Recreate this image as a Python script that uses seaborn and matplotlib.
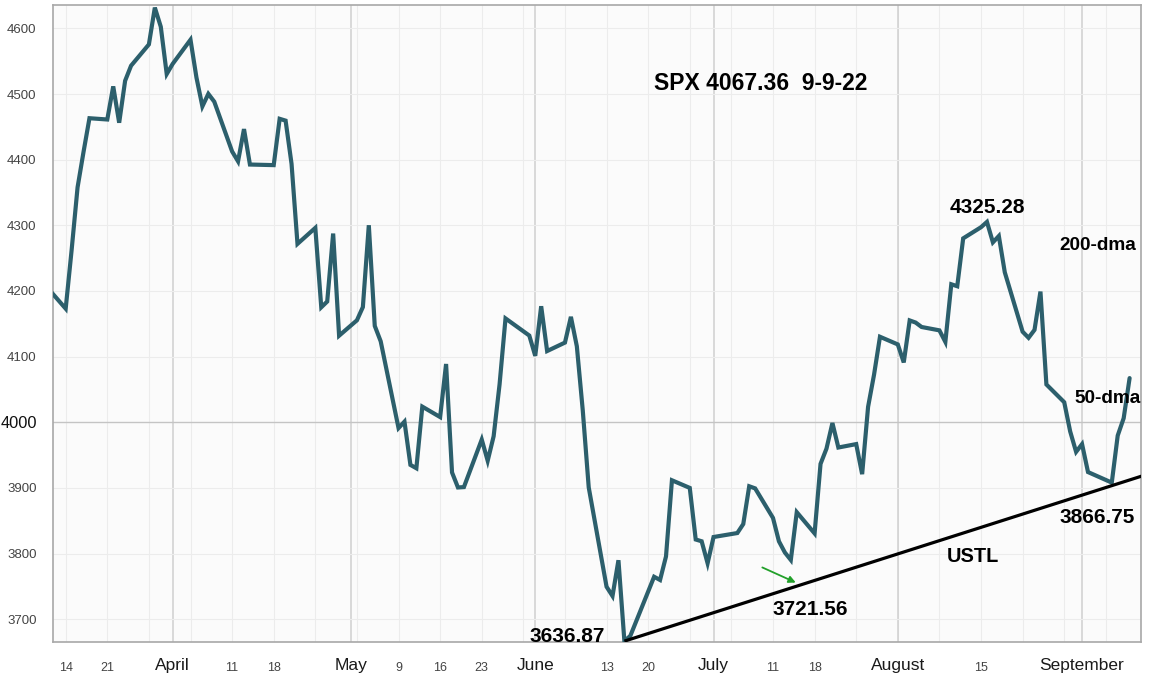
import pandas as pd
import numpy as np
import matplotlib
matplotlib.use("Agg")
import matplotlib.pyplot as plt
import matplotlib.dates as mdates
import seaborn as sns

# ---- data: SPX daily closes ----
dates = ["2022-03-11","2022-03-14","2022-03-15","2022-03-16","2022-03-17","2022-03-18",
         "2022-03-21","2022-03-22","2022-03-23","2022-03-24","2022-03-25",
         "2022-03-28","2022-03-29","2022-03-30","2022-03-31","2022-04-01",
         "2022-04-04","2022-04-05","2022-04-06","2022-04-07","2022-04-08",
         "2022-04-11","2022-04-12","2022-04-13","2022-04-14",
         "2022-04-18","2022-04-19","2022-04-20","2022-04-21","2022-04-22",
         "2022-04-25","2022-04-26","2022-04-27","2022-04-28","2022-04-29",
         "2022-05-02","2022-05-03","2022-05-04","2022-05-05","2022-05-06",
         "2022-05-09","2022-05-10","2022-05-11","2022-05-12","2022-05-13",
         "2022-05-16","2022-05-17","2022-05-18","2022-05-19","2022-05-20",
         "2022-05-23","2022-05-24","2022-05-25","2022-05-26","2022-05-27",
         "2022-05-31","2022-06-01","2022-06-02","2022-06-03",
         "2022-06-06","2022-06-07","2022-06-08","2022-06-09","2022-06-10",
         "2022-06-13","2022-06-14","2022-06-15","2022-06-16","2022-06-17",
         "2022-06-21","2022-06-22","2022-06-23","2022-06-24",
         "2022-06-27","2022-06-28","2022-06-29","2022-06-30","2022-07-01",
         "2022-07-05","2022-07-06","2022-07-07","2022-07-08",
         "2022-07-11","2022-07-12","2022-07-13","2022-07-14","2022-07-15",
         "2022-07-18","2022-07-19","2022-07-20","2022-07-21","2022-07-22",
         "2022-07-25","2022-07-26","2022-07-27","2022-07-28","2022-07-29",
         "2022-08-01","2022-08-02","2022-08-03","2022-08-04","2022-08-05",
         "2022-08-08","2022-08-09","2022-08-10","2022-08-11","2022-08-12",
         "2022-08-15","2022-08-16","2022-08-17","2022-08-18","2022-08-19",
         "2022-08-22","2022-08-23","2022-08-24","2022-08-25","2022-08-26",
         "2022-08-29","2022-08-30","2022-08-31","2022-09-01","2022-09-02",
         "2022-09-06","2022-09-07","2022-09-08","2022-09-09"]
closes = [4204.31,4173.11,4262.45,4357.86,4411.67,4463.12,
          4461.18,4511.61,4456.24,4520.16,4543.06,
          4575.52,4631.60,4602.45,4530.41,4545.86,
          4582.64,4525.12,4481.15,4500.21,4488.28,
          4412.53,4397.45,4446.59,4392.59,
          4391.69,4462.21,4459.45,4393.66,4271.78,
          4296.12,4175.20,4183.96,4287.50,4131.93,
          4155.38,4175.48,4300.17,4146.87,4123.34,
          3991.24,4001.05,3935.18,3930.08,4023.89,
          4008.01,4088.85,3923.68,3900.79,3901.36,
          3973.75,3941.48,3978.73,4057.84,4158.24,
          4132.15,4101.23,4176.82,4108.54,
          4121.43,4160.68,4115.77,4017.82,3900.86,
          3749.63,3735.48,3789.99,3666.77,3674.84,
          3764.79,3759.89,3795.73,3911.74,
          3900.11,3821.55,3818.83,3785.38,3825.33,
          3831.39,3845.08,3902.62,3899.38,
          3854.43,3818.80,3801.78,3790.38,3863.16,
          3830.85,3936.69,3959.90,3998.95,3961.63,
          3966.84,3921.05,4023.61,4072.43,4130.29,
          4118.63,4091.19,4155.17,4151.94,4145.19,
          4140.06,4122.47,4210.24,4207.27,4280.15,
          4297.14,4305.20,4274.04,4283.74,4228.48,
          4137.99,4128.73,4140.77,4199.12,4057.66,
          4030.61,3986.16,3955.00,3966.85,3924.26,
          3908.19,3979.87,4006.18,4067.36]

# trend line (USTL) endpoints
ustl_dates = ["2022-06-16", "2022-09-11"]
ustl_values = [3666.77, 3918.0]

# green arrow
arrow_dates = ["2022-07-09 05:00", "2022-07-14 20:00"]
arrow_values = [3779.0, 3756.0]

# axis ticks
y_ticks = [3700, 3800, 3900, 4000, 4100, 4200, 4300, 4400, 4500, 4600]
month_ticks = ["2022-04-01", "2022-05-01", "2022-06-01", "2022-07-01", "2022-08-01", "2022-09-01"]
month_labels = ["April", "May", "June", "July", "August", "September"]
week_ticks = ["2022-03-14","2022-03-21","2022-03-28","2022-04-04","2022-04-11","2022-04-18",
              "2022-04-25","2022-05-02","2022-05-09","2022-05-16","2022-05-23","2022-05-30",
              "2022-06-06","2022-06-13","2022-06-20","2022-06-27","2022-07-04","2022-07-11",
              "2022-07-18","2022-07-25","2022-08-01","2022-08-08","2022-08-15","2022-08-22",
              "2022-08-29","2022-09-05"]
week_labels = ["14","21","","","11","18","","","9","16","23","","","13","20","","","11",
               "18","","","","15","","",""]

df = pd.DataFrame({"date": pd.to_datetime(dates), "close": closes})

sns.set_style("white")
plt.rcParams["font.family"] = ["Liberation Sans", "DejaVu Sans"]

fig = plt.figure(figsize=(11.57, 6.76), dpi=100)
ax = fig.add_axes([53.3/1157, 1 - 642.3/676, (1141 - 53.3)/1157, (642.3 - 4.7)/676])
ax.set_facecolor("#fbfbfb")

# grid
for d in pd.to_datetime(week_ticks):
    ax.axvline(d, color="#ececec", lw=0.8, zorder=0)
for d in pd.to_datetime(month_ticks):
    ax.axvline(d, color="#cfcfcf", lw=1.1, zorder=0)
for v in y_ticks:
    ax.axhline(v, color="#c4c4c4" if v == 4000 else "#ececec", lw=1.0 if v == 4000 else 0.8, zorder=0)

sns.lineplot(data=df, x="date", y="close", ax=ax, color="#2c5f6c", linewidth=3.0,
             solid_joinstyle="miter", zorder=3)

ax.plot(pd.to_datetime(ustl_dates), ustl_values, color="black", lw=2.3, zorder=4,
        solid_capstyle="butt")

ad = pd.to_datetime(arrow_dates)
ax.annotate("", xy=(ad[1], arrow_values[1]), xytext=(ad[0], arrow_values[0]),
            arrowprops=dict(arrowstyle="-|>", color="#22a02a", lw=1.3,
                            mutation_scale=10, shrinkA=0, shrinkB=0), zorder=5)

ax.set_xlim(pd.Timestamp("2022-03-11 22:00"), pd.Timestamp("2022-09-10 22:00"))
ax.set_ylim(3665, 4636)

ax.set_xticks(pd.to_datetime(month_ticks))
ax.set_xticklabels(month_labels, fontsize=12.5, color="#1a1a1a")
ax.set_xticks(pd.to_datetime(week_ticks), minor=True)
ax.set_xticklabels(week_labels, minor=True, fontsize=9, color="#444444")
ax.tick_params(axis="x", which="major", length=8, width=1, color="#888888", pad=3)
ax.tick_params(axis="x", which="minor", length=5, width=1, color="#888888", pad=9)

ax.set_yticks(y_ticks)
ax.set_yticklabels([str(v) for v in y_ticks], fontsize=9.5, color="#444444")
ax.tick_params(axis="y", length=5, width=1, color="#888888", pad=7)
for lbl in ax.get_yticklabels():
    if lbl.get_text() == "4000":
        lbl.set_fontsize(11.8)
        lbl.set_color("#111111")

ax.set_xlabel("")
ax.set_ylabel("")
for s in ax.spines.values():
    s.set_color("#a8a8a8")
    s.set_linewidth(1.2)

bold = dict(fontweight="bold", color="black", transform=ax.transAxes, ha="center", va="center")
ax.text(0.650, 0.877, "SPX 4067.36  9-9-22", fontsize=16.5, **bold)
ax.text(0.859, 0.682, "4325.28", fontsize=15, **bold)
ax.text(0.960, 0.623, "200-dma", fontsize=13.7, **bold)
ax.text(0.969, 0.382, "50-dma", fontsize=13.7, **bold)
ax.text(0.960, 0.195, "3866.75", fontsize=15, **bold)
ax.text(0.845, 0.135, "USTL", fontsize=14.3, **bold)
ax.text(0.696, 0.052, "3721.56", fontsize=15, **bold)
ax.text(0.472, 0.0085, "3636.87", fontsize=15, **bold)

fig.savefig("out.png", dpi=100)
